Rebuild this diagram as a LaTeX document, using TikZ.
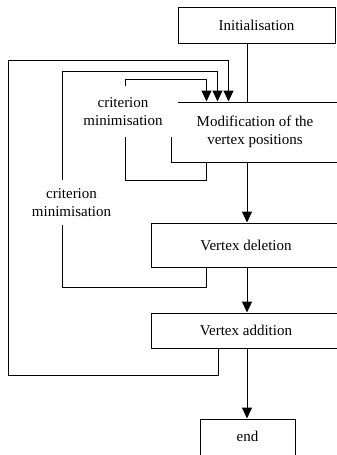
\documentclass[tikz,border=0pt]{standalone}
\usepackage{fontspec}
\setmainfont{Liberation Serif}
\usetikzlibrary{arrows.meta}
\tikzset{
	stepbox/.style={rectangle, draw, line width=1pt, fill=white, align=center, inner sep=0pt},
	flow/.style={line width=1pt, -{Triangle[length=11pt,width=10pt]}},
	loopline/.style={line width=1pt},
	critlabel/.style={rectangle, fill=white, align=center, inner sep=0pt}
}

\begin{document}
\begin{tikzpicture}[x=1pt, y=-1pt, font=\fontsize{15}{18}\selectfont]
	\clip (0,0) rectangle (337,455);
	\coordinate (axis) at (247,0);
	
	\node[stepbox, minimum width=157pt, minimum height=36pt] (init) at (256.5,25) {Initialisation};
	\node[stepbox, minimum width=168pt, minimum height=60pt] (modif) at (255,132) {Modification of the\\vertex positions};
	\node[stepbox, minimum width=190pt, minimum height=44pt] (del) at (246,245) {Vertex deletion};
	\node[stepbox, minimum width=190pt, minimum height=35pt] (add) at (246,330.5) {Vertex addition};
	\node[stepbox, minimum width=95pt, minimum height=40pt, text depth=6pt] (end) at (247.5,439) {end};
	
	% main flow
	\draw[loopline] (init.south -| axis) -- (modif.north -| axis);
	\draw[flow] (modif.south -| axis) -- (del.north -| axis);
	\draw[flow] (del.south -| axis) -- (add.north -| axis);
	\draw[flow] (add.south -| axis) -- (end.north -| axis);
	
	% feedback loops
	\draw[flow] ([xshift=36pt]modif.south west) -- ++(0,18) -| (125,79) -| ([xshift=36pt]modif.north west);
	\draw[flow] ([xshift=56pt]del.south west) -- ++(0,20) -| (62,71) -| ([xshift=47pt]modif.north west);
	\draw[flow] ([xshift=68pt]add.south west) -- ++(0,27) -| (8,60) -| ([xshift=58pt]modif.north west);
	
	\node[critlabel, minimum width=110pt, minimum height=51pt] (crit1) at (123,111.5) {criterion\\minimisation};
	\node[critlabel, minimum width=85pt, minimum height=45pt] (crit2) at (71.5,202.5) {criterion\\minimisation};
\end{tikzpicture}
\end{document}
